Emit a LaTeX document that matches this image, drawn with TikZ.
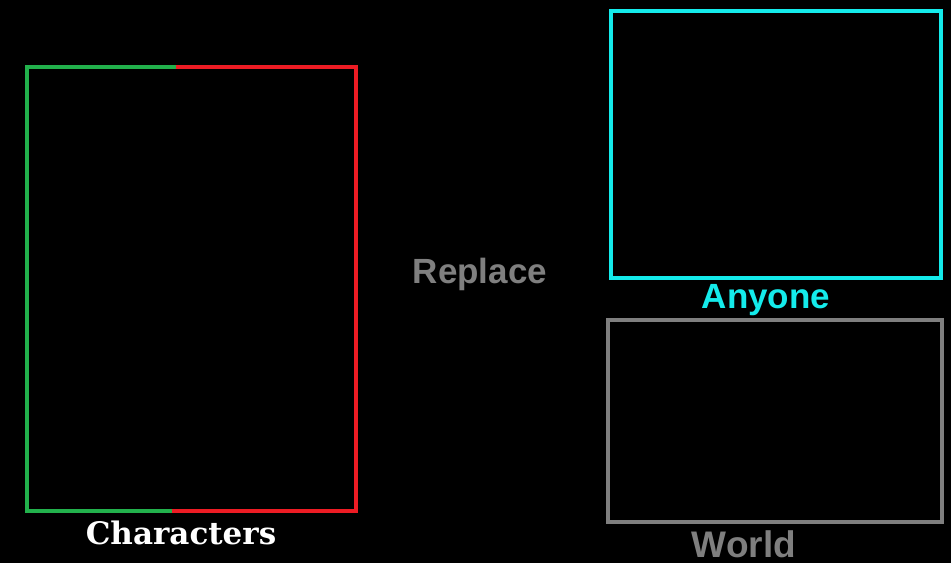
\documentclass[tikz,border=0pt]{standalone}
\usepackage{fontspec}
\setmainfont{Liberation Sans}
\newfontfamily\heavyserif{DejaVu Serif}
\usetikzlibrary{positioning}

\definecolor{paintgreen}{RGB}{34,177,76}
\definecolor{paintred}{RGB}{237,28,36}
\definecolor{paintcyan}{RGB}{20,235,235}
\definecolor{paintgray}{RGB}{127,127,127}

\tikzset{
	frame/.style={draw, inner sep=0pt, outer sep=0pt, anchor=north west},
	caption/.style={anchor=base, inner sep=0pt, font=\fontsize{35}{40}\selectfont\bfseries}
}

\begin{document}
\begin{tikzpicture}[x=1pt, y=-1pt, line width=4pt]
	\fill[black] (0,0) rectangle (951,563);
	\useasboundingbox (0,0) rectangle (951,563);

	% left frame, two colours
	\coordinate (tl) at (27,67);
	\coordinate (br) at (356,511);
	\coordinate (topmid) at (176,67);
	\coordinate (botmid) at (172,511);
	\draw[paintgreen] (topmid) -- (tl) |- (botmid);
	\draw[paintred] (topmid) -| (br) -- (botmid);

	\node[frame, paintcyan, minimum width=330, minimum height=267] (anyonebox) at (611,11) {};
	\node[frame, paintgray, minimum width=334, minimum height=202] (worldbox) at (608,320) {};

	\node[caption, white, font=\fontsize{31}{34}\selectfont\heavyserif\bfseries] (characters) at (181,544) {Characters};
	\node[caption, paintgray] (replace) at (480,283) {Replace};
	\node[caption, paintcyan] (anyone) at (766,308) {Anyone};
	\node[caption, paintgray, font=\fontsize{37}{40}\selectfont\bfseries] (world) at (744,557) {World};
\end{tikzpicture}
\end{document}
